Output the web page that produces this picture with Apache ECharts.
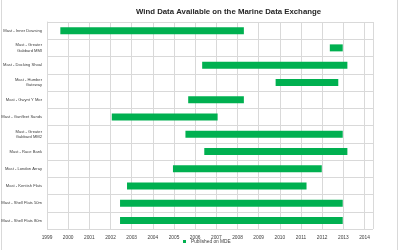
<!DOCTYPE html>
<html><head><meta charset="utf-8">
<script src="https://cdn.jsdelivr.net/npm/echarts@6/dist/echarts.min.js"></script>
<style>html,body{margin:0;padding:0;background:#fff}#c{width:400px;height:250px}</style>
</head><body><div id="c"></div>
<script>
const categories = [
  'Mast - Inner Dowsing',
  'Mast - Greater\nGabbard MMI',
  'Mast - Docking Shoal',
  'Mast - Humber\nGateway',
  'Mast - Gwynt Y Mor',
  'Mast - Gunfleet Sands',
  'Mast - Greater\nGabbard MM2',
  'Mast - Race Bank',
  'Mast - London Array',
  'Mast - Kentish Flats',
  'Mast - Shell Flats 50m',
  'Mast - Shell Flats 80m'
];
const startYear = [1999.63, 2012.36, 2006.33, 2009.80, 2005.67, 2002.06, 2005.54, 2006.43, 2004.95, 2002.78, 2002.45, 2002.45];
const endYear   = [2008.30, 2012.97, 2013.19, 2012.76, 2008.30, 2007.06, 2012.97, 2013.19, 2011.98, 2011.26, 2012.97, 2012.97];
const xMin = 1999, xMax = 2014.4;

const duration = endYear.map((e, i) => +(e - startYear[i]).toFixed(2));
const chart = echarts.init(document.getElementById('c'), null, {renderer: 'canvas'});
const font = 'Liberation Sans, Arial, sans-serif';
chart.setOption({
  animation: false,
  title: {
    text: 'Wind Data Available on the Marine Data Exchange',
    left: 131, top: 3,
    textStyle: {fontSize: 7.8, fontWeight: 'bold', color: '#262626', fontFamily: font}
  },
  legend: {
    data: ['Published on MDE'], bottom: 1, left: 178,
    icon: 'rect', itemWidth: 3, itemHeight: 3, itemGap: 3,
    textStyle: {fontSize: 4.8, color: '#404040', fontFamily: font}
  },
  grid: {left: 47, right: 27, top: 22, bottom: 21, outerBoundsMode: 'none', containLabel: false},
  xAxis: {
    type: 'value', min: xMin, max: xMax, interval: 1,
    axisLine: {show: false}, axisTick: {show: false},
    axisLabel: {fontSize: 4.8, color: '#404040', fontFamily: font, margin: 6,
      showMaxLabel: false, formatter: v => Number.isInteger(v) ? String(v) : ''},
    splitLine: {show: true, lineStyle: {color: '#d9d9d9', width: 1}}
  },
  yAxis: {
    type: 'category', data: categories, inverse: true,
    axisLine: {show: true, lineStyle: {color: '#d9d9d9'}},
    axisTick: {show: false},
    axisLabel: {fontSize: 4.1, color: '#404040', fontFamily: font, margin: 5, lineHeight: 5.5, align: 'right'},
    splitLine: {show: true, lineStyle: {color: '#d9d9d9', width: 1}}
  },
  series: [
    {name: 'offset', type: 'bar', stack: 't', data: startYear,
      itemStyle: {color: 'transparent'}, barWidth: 7, silent: true},
    {name: 'Published on MDE', type: 'bar', stack: 't', data: duration,
      itemStyle: {color: '#00b050'}, barWidth: 7}
  ],
  graphic: [
    {type: 'line', shape: {x1: 1.5, y1: 0, x2: 1.5, y2: 250}, style: {stroke: '#d9d9d9', lineWidth: 1}},
    {type: 'line', shape: {x1: 397.5, y1: 0, x2: 397.5, y2: 250}, style: {stroke: '#d9d9d9', lineWidth: 1}}
  ]
});
</script></body></html>
